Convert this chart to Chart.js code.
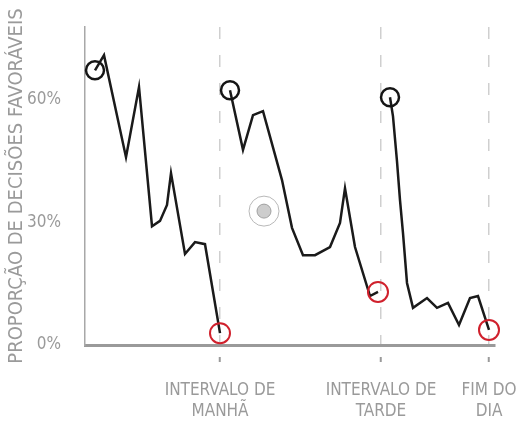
<!DOCTYPE html>
<html>
<head>
<meta charset="utf-8">
<script src="https://cdn.jsdelivr.net/npm/chart.js@4/dist/chart.umd.min.js"></script>
<style>
  body { margin: 0; background: #fff; }
</style>
</head>
<body>
<canvas id="myChart" width="525" height="427"></canvas>
<script>
// sessions of the day (x = order of the case, y = % favourable decisions)
const xManha = [10, 19, 41, 54, 67, 75, 82, 86, 100, 110, 120, 135];
const yManha = [67.3, 71.0, 46.0, 63.2, 29.1, 30.4, 34.3, 42.1, 22.3, 25.2, 24.7, 2.9];
const xTarde = [145, 158, 168, 178, 197, 207, 218, 230, 245, 255, 260, 270, 285, 293];
const yTarde = [62.4, 47.8, 56.3, 57.3, 40.4, 28.7, 22.0, 22.0, 24.0, 29.9, 38.4, 24.0, 12.0, 13.0];
const xFim = [305, 308, 312, 315, 318, 322, 328, 342, 352, 363, 374, 385, 393, 404];
const yFim = [60.7, 56.0, 45.0, 35.5, 27.4, 15.2, 9.1, 11.5, 9.1, 10.3, 4.9, 11.5, 12.0, 3.7];
const targetX = [179];
const targetY = [32.8];

const breakX = [135, 296, 404];
const breakLabels = [["INTERVALO DE", "MANHÃ"], ["INTERVALO DE", "TARDE"], ["FIM DO", "DIA"]];
const yTicks = [0, 30, 60];
const yTitle = "PROPORÇÃO DE DECISÕES FAVORÁVEIS";

const grey = "#9a9a9a";
const handFont = "'Liberation Sans Narrow', 'DejaVu Sans Condensed', 'DejaVu Sans', sans-serif";

const toPts = (xs, ys) => xs.map((x, i) => ({x: x, y: ys[i]}));

const session = (xs, ys) => ({
    data: toPts(xs, ys),
    borderColor: "#1a1a1a",
    borderWidth: 2.5,
    tension: 0,
    clip: false,
    pointRadius: c => c.dataIndex == 0 ? 9 : (c.dataIndex == xs.length - 1 ? 10 : 0),
    pointBorderColor: c => c.dataIndex == 0 ? "#151515" : "#d0202c",
    pointBorderWidth: c => c.dataIndex == 0 ? 2.5 : 2,
    pointBackgroundColor: "rgba(0,0,0,0)"
});

new Chart("myChart", {
    type: "line",
    data: {
        datasets: [
            session(xManha, yManha),
            session(xTarde, yTarde),
            session(xFim, yFim),
            {
                data: toPts(targetX, targetY),
                showLine: false,
                pointRadius: 15,
                pointBorderColor: "#b8b8b8",
                pointBorderWidth: 1,
                pointBackgroundColor: "rgba(0,0,0,0)"
            },
            {
                data: toPts(targetX, targetY),
                showLine: false,
                pointRadius: 7,
                pointBorderColor: "#a0a0a0",
                pointBorderWidth: 1,
                pointBackgroundColor: "#cdcdcd"
            }
        ]
    },
    options: {
        responsive: false,
        animation: false,
        events: [],
        layout: {padding: {top: 27, right: 30, left: 0, bottom: 0}},
        plugins: {legend: {display: false}, tooltip: {enabled: false}},
        scales: {
            x: {
                type: "linear",
                min: 0,
                max: 410,
                afterFit: s => { s.height = 82; s.paddingLeft = 0; s.paddingRight = 0; },
                afterBuildTicks: s => { s.ticks = breakX.map(v => ({value: v})); },
                grid: {
                    color: "#cfcfcf",
                    lineWidth: 1.5,
                    tickColor: grey,
                    tickWidth: 2,
                    tickLength: 17,
                    tickBorderDash: [0, 10, 8, 100]
                },
                border: {display: true, color: grey, width: 3, dash: [12, 16]},
                ticks: {
                    autoSkip: false,
                    maxRotation: 0,
                    padding: 18,
                    color: grey,
                    font: {family: handFont, size: 17, lineHeight: 1.25},
                    callback: (v, i) => breakLabels[i]
                }
            },
            y: {
                min: 0,
                max: 77.9,
                afterFit: s => { s.width = 85; },
                afterBuildTicks: s => { s.ticks = yTicks.map(v => ({value: v})); },
                grid: {display: false},
                border: {display: true, color: "#a8a8a8", width: 1.5},
                ticks: {
                    padding: 16,
                    color: grey,
                    font: {family: handFont, size: 17},
                    callback: v => v + "%"
                },
                title: {
                    display: true,
                    text: yTitle,
                    color: grey,
                    padding: {top: 5, bottom: 0},
                    font: {family: handFont, size: 20}
                }
            }
        }
    }
});
</script>
</body>
</html>
